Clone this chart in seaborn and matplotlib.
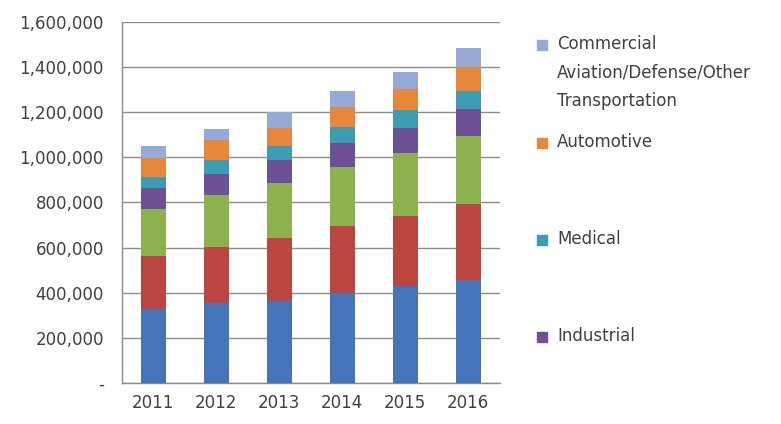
import numpy as np
import pandas as pd
import matplotlib
matplotlib.use('Agg')
import matplotlib.pyplot as plt
import matplotlib.ticker as mticker
import seaborn as sns

# data (units)
years = ['2011', '2012', '2013', '2014', '2015', '2016']
series_names = ['Consumer', 'Communications', 'Computing', 'Industrial',
                'Medical', 'Automotive',
                'Commercial Aviation/Defense/Other Transportation']
consumer = [328000, 355000, 362000, 399000, 428000, 458000]
communications = [236000, 248000, 280000, 298000, 314000, 336000]
computing = [208000, 231000, 246000, 259000, 276000, 301000]
industrial = [94000, 92000, 101000, 109000, 113000, 118000]
medical = [49000, 63000, 61000, 71000, 79000, 82000]
automotive = [81000, 88000, 81000, 86000, 91000, 104000]
commercial = [54000, 50000, 70000, 73000, 78000, 84000]

colors = ['#4674B8', '#BB4541', '#8DB14E', '#6D5095', '#3D9BB3', '#E6873C', '#95AAD6']

# legend only shows the last four series, like the original
legend_items = [('Commercial\nAviation/Defense/Other\nTransportation', '#95AAD6', 45),
                ('Automotive', '#E6873C', 143),
                ('Medical', '#3D9BB3', 240),
                ('Industrial', '#6D5095', 337)]

sns.set_style('white')
plt.rcParams['font.family'] = ['DejaVu Sans']

df = pd.DataFrame({'year': years})
all_series = [consumer, communications, computing, industrial, medical, automotive, commercial]
cum = np.cumsum(np.array(all_series), axis=0)

fig = plt.figure(figsize=(7.81, 4.24), dpi=100)
ax = fig.add_axes([0.156, 0.097, 0.484, 0.851])

# draw cumulative totals from the top series down so lower ones cover upper ones
for i in range(len(all_series) - 1, -1, -1):
    df['total'] = cum[i]
    sns.barplot(data=df, x='year', y='total', color=colors[i], saturation=1,
                width=0.4, ax=ax, zorder=3, linewidth=0, edgecolor='none')

ax.set_ylim(0, 1600000)
ax.set_xlim(-0.5, 5.5)
ax.set_yticks(np.arange(0, 1600001, 200000))
ax.yaxis.set_major_formatter(mticker.FuncFormatter(lambda v, p: '-' if v == 0 else f'{int(v):,}'))
ax.grid(axis='y', color='#8c8c8c', linewidth=1, zorder=0)
ax.set_axisbelow(True)
ax.set_xlabel('')
ax.set_ylabel('')

for s in ['top', 'right']:
    ax.spines[s].set_visible(False)
for s in ['left', 'bottom']:
    ax.spines[s].set_color('#8c8c8c')
    ax.spines[s].set_linewidth(1)

ax.tick_params(axis='y', length=5, color='#8c8c8c', labelsize=12, labelcolor='#404040', pad=8)
ax.tick_params(axis='x', which='major', length=0, labelsize=12, labelcolor='#404040', pad=8)
ax.set_xticks(np.arange(-0.5, 6, 1), minor=True)
ax.tick_params(axis='x', which='minor', length=5, color='#8c8c8c')

# legend drawn at the original positions
for label, c, ytop in legend_items:
    y = 1 - ytop / 424
    fig.patches.append(plt.Rectangle((537 / 781, y - 5 / 424), 10 / 781, 10 / 424,
                                     transform=fig.transFigure, color=c, figure=fig))
    fig.text(557 / 781, y + 10 / 424, label, fontsize=12, color='#404040',
             va='top', ha='left', linespacing=1.75)

fig.savefig('out.png', dpi=100)
